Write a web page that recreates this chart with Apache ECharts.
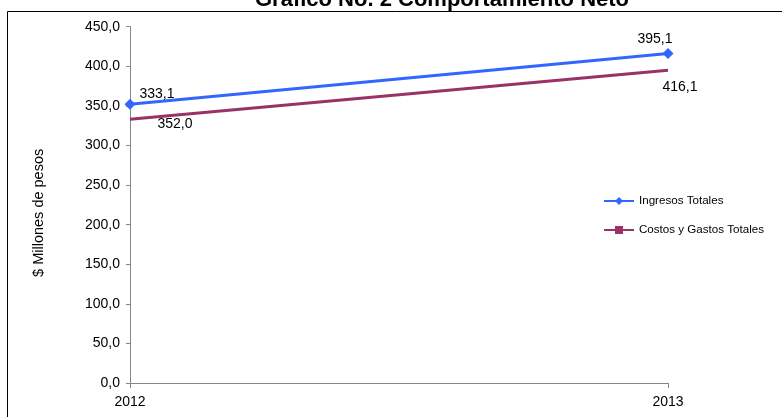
<!DOCTYPE html>
<html>
<head>
<meta charset="utf-8">
<script src="https://cdn.jsdelivr.net/npm/echarts@6/dist/echarts.min.js"></script>
<style>html,body{margin:0;padding:0;background:#fff}#c{width:782px;height:417px}</style>
</head>
<body>
<div id="c"></div>
<script>
const titleText = 'Gráfico No. 2 Comportamiento Neto';
const categories = ['2012', '2013'];
const ingresos = [352.0, 416.1];
const costos = [333.1, 395.1];
const ingresosLabels = ['333,1', '395,1'];
const costosLabels = ['352,0', '416,1'];
const yTicks = [0, 50, 100, 150, 200, 250, 300, 350, 400, 450];

const font = 'Liberation Sans, Arial, sans-serif';
const fmt = v => v.toFixed(1).replace('.', ',');

const ingresosOffsets = [[27, -10], [-13, -14]];
const costosOffsets = [[45, 5], [12, 17]];

const chart = echarts.init(document.getElementById('c'), null, {renderer: 'canvas'});
chart.setOption({
  animation: false,
  backgroundColor: '#fff',
  title: {
    text: titleText, left: 437, textAlign: 'center', top: -16,
    textStyle: {fontFamily: font, fontWeight: 'bold', fontSize: 22, color: '#000'}
  },
  graphic: [{
    type: 'rect', shape: {x: 7.5, y: 11.5, width: 800, height: 500},
    style: {fill: 'none', stroke: '#000', lineWidth: 1}, z: 100
  }],
  legend: {
    orient: 'vertical', left: 598, top: 190, itemWidth: 30, itemHeight: 10, itemGap: 17,
    textStyle: {fontFamily: font, fontSize: 11.6, color: '#000'},
    data: ['Ingresos Totales', 'Costos y Gastos Totales']
  },
  grid: {left: 130, right: 114, top: 26.7, bottom: 34, containLabel: false},
  xAxis: {
    type: 'category', data: categories, boundaryGap: false,
    axisLine: {lineStyle: {color: '#868686'}},
    axisTick: {show: true, length: 5, lineStyle: {color: '#868686'}},
    axisLabel: {fontFamily: font, fontSize: 14, color: '#000', margin: 12}
  },
  yAxis: {
    type: 'value', min: yTicks[0], max: yTicks[yTicks.length - 1], interval: 50,
    name: '$ Millones de pesos', nameLocation: 'middle', nameGap: 84, nameRotate: 90,
    nameTextStyle: {fontFamily: font, fontSize: 14.5, color: '#000', padding: [0, 16, 0, 0]},
    axisLine: {show: true, lineStyle: {color: '#868686'}},
    axisTick: {show: true, length: 4, lineStyle: {color: '#868686'}},
    splitLine: {show: false},
    axisLabel: {fontFamily: font, fontSize: 14, color: '#000', margin: 10, formatter: fmt}
  },
  series: [{
    name: 'Ingresos Totales', type: 'line', symbol: 'diamond', symbolSize: 11,
    color: '#3366ff', lineStyle: {width: 3, color: '#3366ff'}, itemStyle: {color: '#3366ff'},
    data: ingresos.map((v, i) => ({value: v, label: {show: true, position: 'inside', offset: ingresosOffsets[i],
      formatter: () => ingresosLabels[i], fontFamily: font, fontSize: 14, color: '#000'}})),
    z: 3
  }, {
    name: 'Costos y Gastos Totales', type: 'line', symbol: 'rect', symbolSize: 0.01,
    color: '#993366', lineStyle: {width: 3, color: '#993366'}, itemStyle: {color: '#993366'},
    data: costos.map((v, i) => ({value: v, label: {show: true, position: 'inside', offset: costosOffsets[i],
      formatter: () => costosLabels[i], fontFamily: font, fontSize: 14, color: '#000'}})),
    z: 2
  }]
});
</script>
</body>
</html>
